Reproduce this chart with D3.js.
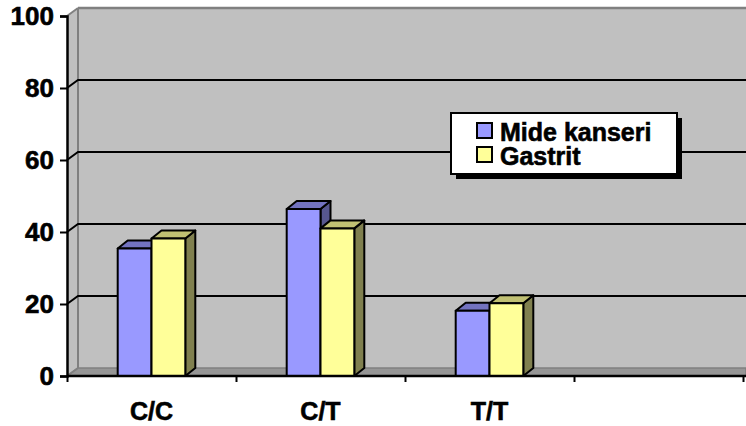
<!DOCTYPE html>
<html>
<head>
<meta charset="utf-8">
<script src="https://cdn.jsdelivr.net/npm/d3@7"></script>
<style>
  html, body { margin: 0; padding: 0; background: #fff; }
  svg { display: block; }
  text { font-family: Arial, "Liberation Sans", sans-serif; font-weight: bold; fill: #000;
         stroke: #000; stroke-width: 0.6px; }
</style>
</head>
<body>
<svg id="chart" width="746" height="426"></svg>
<script>
// Genotype distribution (%), one empty slot at the end of the category axis
const categories = ["C/C", "C/T", "T/T", ""];
const mideKanseri = [35.4, 46.4, 18.1, null];
const gastrit = [38.2, 41.0, 20.2, null];
const seriesNames = ["Mide kanseri", "Gastrit"];
const yTicks = [0, 20, 40, 60, 80, 100];

const seriesValues = [mideKanseri, gastrit];
const faceColors = [
  { front: "#9999FF", top: "#7373C0", side: "#57578F" },
  { front: "#FFFF99", top: "#C0C073", side: "#80804F" }
];

const W = 746, H = 426;
const svg = d3.select("#chart");

// plot geometry (front plane) and depth offset of the 3D box
const plotL = 67, plotR = 743, plotB = 376, plotT = 16;
const DX = 11, DY = -8;       // wall depth
const BX = 10, BY = -8;       // bar depth

const y = d3.scaleLinear().domain([0, 100]).range([plotB, plotT]);
const x0 = d3.scaleBand().domain(d3.range(categories.length)).range([plotL, plotR]).padding(0);
const x1 = d3.scaleBand().domain(d3.range(seriesNames.length)).range([0, x0.bandwidth()])
  .paddingInner(0).paddingOuter(1.5);

const g = svg.append("g");

// side wall, back wall, floor
g.append("polygon")
  .attr("points", [[plotL, y(0)], [plotL + DX, y(0) + DY], [plotL + DX, y(100) + DY], [plotL, y(100)]].join(" "))
  .attr("fill", "#C0C0C0");
g.append("rect")
  .attr("x", plotL + DX).attr("y", y(100) + DY)
  .attr("width", W - (plotL + DX)).attr("height", y(0) - y(100))
  .attr("fill", "#C0C0C0");
g.append("polygon")
  .attr("points", [[plotL, y(0)], [plotL + DX, y(0) + DY], [W, y(0) + DY], [W, y(0)]].join(" "))
  .attr("fill", "#969696").attr("stroke", "#808080").attr("stroke-width", 1.5);

// wall edges
g.append("line").attr("x1", plotL + DX).attr("x2", plotL + DX)
  .attr("y1", y(100) + DY).attr("y2", y(0) + DY)
  .attr("stroke", "#808080").attr("stroke-width", 2);
g.append("line").attr("x1", plotL + DX).attr("x2", W)
  .attr("y1", y(100) + DY).attr("y2", y(100) + DY)
  .attr("stroke", "#808080").attr("stroke-width", 2.5);
g.append("line").attr("x1", plotL).attr("x2", plotL + DX)
  .attr("y1", y(100)).attr("y2", y(100) + DY)
  .attr("stroke", "#808080").attr("stroke-width", 2);
g.append("line").attr("x1", plotL).attr("x2", plotL + DX)
  .attr("y1", y(0)).attr("y2", y(0) + DY)
  .attr("stroke", "#808080").attr("stroke-width", 2);

// gridlines on the back wall and across the side wall
const grid = yTicks.filter(t => t > 0 && t < 100);
g.selectAll(".grid").data(grid).join("path")
  .attr("class", "grid")
  .attr("d", t => `M${plotL},${y(t)}L${plotL + DX},${y(t) + DY}L${W},${y(t) + DY}`)
  .attr("fill", "none").attr("stroke", "#000").attr("stroke-width", 2);

// 3D bars
const bars = g.append("g");
categories.forEach((c, i) => {
  seriesValues.forEach((vals, s) => {
    const v = vals[i];
    if (v == null) return;
    const xl = x0(i) + x1(s), xr = xl + x1.bandwidth();
    const yt = y(v), yb = y(0);
    const col = faceColors[s];
    const bg = bars.append("g").attr("stroke", "#000").attr("stroke-width", 2).attr("stroke-linejoin", "round");
    bg.append("polygon")
      .attr("points", [[xr, yb], [xr + BX, yb + BY], [xr + BX, yt + BY], [xr, yt]].join(" "))
      .attr("fill", col.side);
    bg.append("polygon")
      .attr("points", [[xl, yt], [xl + BX, yt + BY], [xr + BX, yt + BY], [xr, yt]].join(" "))
      .attr("fill", col.top);
    bg.append("rect")
      .attr("x", xl).attr("y", yt).attr("width", xr - xl).attr("height", yb - yt)
      .attr("fill", col.front);
  });
});

// y axis
const yAxis = d3.axisLeft(y).tickValues(yTicks).tickSize(7).tickPadding(6);
const ya = svg.append("g").attr("transform", `translate(${plotL},0)`).call(yAxis);
ya.select(".domain").attr("stroke", "#000").attr("stroke-width", 2.5);
ya.selectAll(".tick line").attr("stroke", "#000").attr("stroke-width", 2);
ya.selectAll(".tick text").attr("font-size", 26).attr("font-family", null).attr("fill", "#000");

// x axis (front baseline)
const xAxis = d3.axisBottom(d3.scaleLinear().domain([0, categories.length]).range([plotL, plotR]))
  .tickValues(d3.range(categories.length + 1)).tickSize(6).tickFormat("");
const xa = svg.append("g").attr("transform", `translate(0,${plotB})`).call(xAxis);
xa.select(".domain").remove();
xa.selectAll(".tick line").attr("stroke", "#000").attr("stroke-width", 2);
svg.append("line").attr("x1", plotL).attr("x2", W).attr("y1", plotB).attr("y2", plotB)
  .attr("stroke", "#000").attr("stroke-width", 2.5);

svg.append("g").selectAll("text").data(categories).join("text")
  .attr("x", (d, i) => x0(i) + x0.bandwidth() / 2)
  .attr("y", 420)
  .attr("text-anchor", "middle")
  .attr("font-size", 25)
  .text(d => d);

// legend
const lg = svg.append("g").attr("transform", "translate(451,113)");
lg.append("rect").attr("x", 5).attr("y", 5).attr("width", 226).attr("height", 61).attr("fill", "#000");
lg.append("rect").attr("x", 0).attr("y", 0).attr("width", 226).attr("height", 61)
  .attr("fill", "#fff").attr("stroke", "#000").attr("stroke-width", 2);
seriesNames.forEach((name, s) => {
  const row = lg.append("g").attr("transform", `translate(26,${10 + s * 24})`);
  row.append("rect").attr("x", 0).attr("y", 0).attr("width", 15).attr("height", 15)
    .attr("fill", faceColors[s].front).attr("stroke", "#000").attr("stroke-width", 2);
  row.append("text").attr("x", 23).attr("y", 17.5).attr("font-size", 25).text(name);
});
</script>
</body>
</html>
